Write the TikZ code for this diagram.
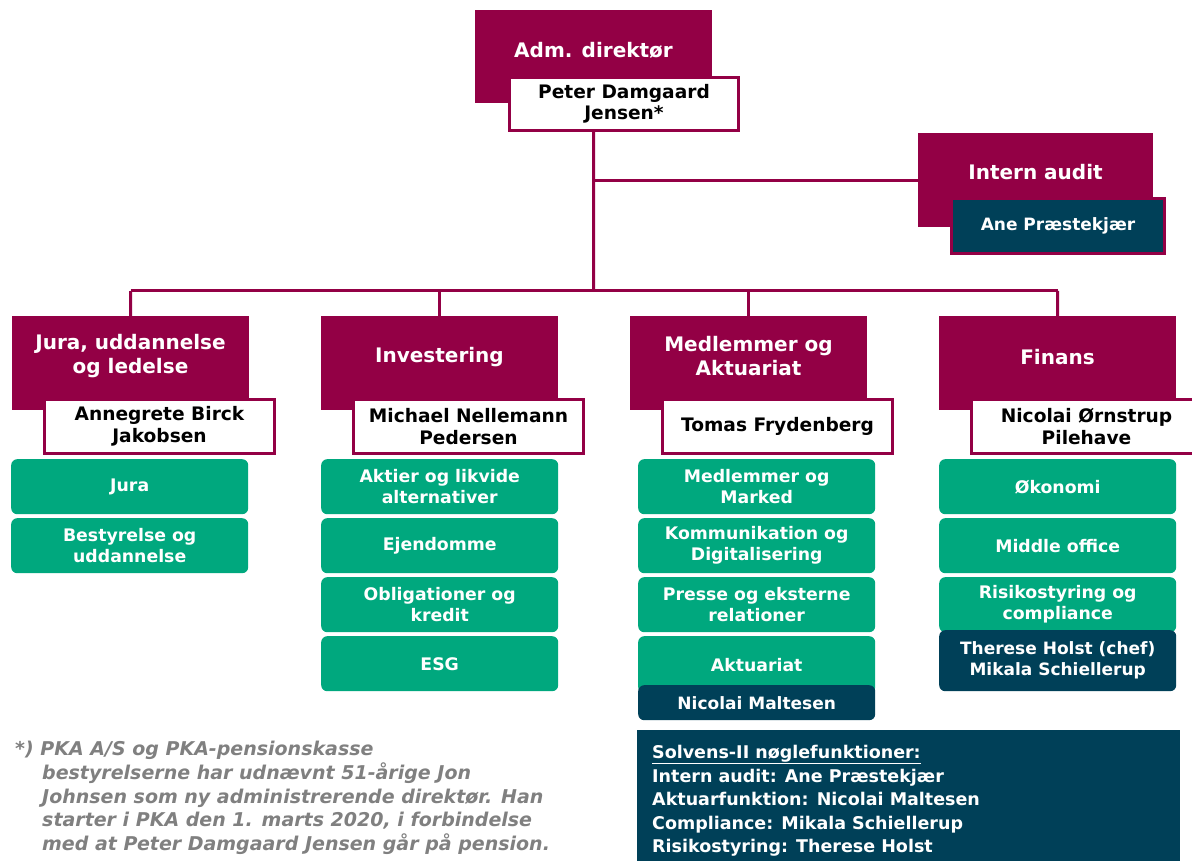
\documentclass[tikz,border=0pt]{standalone}
\usepackage{fontspec}
\setmainfont{DejaVu Sans}
\definecolor{maroon}{RGB}{147,0,69}
\definecolor{pgreen}{RGB}{0,168,126}
\definecolor{dteal}{RGB}{0,64,88}
\definecolor{fgray}{RGB}{128,128,128}
\begin{document}
\begin{tikzpicture}[x=1pt,y=-1pt,
  mbox/.style={fill=maroon,anchor=north west,inner sep=0pt,minimum width=237pt,minimum height=94pt},
  ttl/.style={text=white,font=\fontsize{20}{23.5}\selectfont\bfseries,align=center,inner sep=0pt},
  person/.style={draw=maroon,line width=3pt,fill=white,anchor=north west,inner sep=0pt,minimum width=230pt,minimum height=54pt,align=center,font=\fontsize{18.6}{21.5}\selectfont\bfseries,text=black},
  gbox/.style={fill=pgreen,rounded corners=6pt,anchor=north west,inner sep=0pt,minimum width=237pt,minimum height=55pt,align=center,text=white,font=\fontsize{17.3}{21}\selectfont\bfseries},
  dbox/.style={fill=dteal,rounded corners=6pt,anchor=north west,inner sep=0pt,minimum width=237pt,align=center,text=white,font=\fontsize{17}{21}\selectfont\bfseries},
  conn/.style={draw=maroon,line width=3pt}]
\useasboundingbox (0,0) rectangle (1192,861);
% top
\node[mbox,minimum width=237pt,minimum height=93pt] (admbox) at (475,10) {};
\node[ttl] (admt) at (593.5,50) {Adm. direktør};
\node[person,minimum width=229pt,minimum height=53pt] (pdj) at (508,76) {Peter Damgaard\\Jensen*};
% intern audit
\node[mbox,minimum width=235pt,minimum height=94pt] (iabox) at (918,133) {};
\node[ttl] (iat) at (1035.5,172) {Intern audit};
\node[draw=maroon,line width=3pt,fill=dteal,anchor=north west,inner sep=0pt,minimum width=213pt,minimum height=55pt,text=white,font=\fontsize{17}{20}\selectfont\bfseries] (ane) at (950,197) {Ane Præstekjær};
% connectors
\coordinate (trunk) at (593.5,291);
\coordinate (iaj) at (593.5,181);
\coordinate (busL) at (130.5,291);
\coordinate (busR) at (1057.5,291);
\draw[conn] (admbox.center |- pdj.south) -- (trunk);
\draw[conn] (iaj) -- (iabox.west |- iaj);
\draw[conn] (busL) -- (busR);
% columns
\node[mbox] (c1) at (12,316) {};
\node[mbox] (c2) at (321,316) {};
\node[mbox] (c3) at (630,316) {};
\node[mbox] (c4) at (939,316) {};
\draw[conn] (busL) -- (c1.north);
\draw[conn] (c2.north |- busL) -- (c2.north);
\draw[conn] (c3.north |- busL) -- (c3.north);
\draw[conn] (busR) -- (c4.north);
\node[ttl] (c1t) at (130.5,356) {Jura, uddannelse\\og ledelse};
\node[ttl] (c2t) at (439.5,357) {Investering};
\node[ttl] (c3t) at (748.5,356) {Medlemmer og\\Aktuariat};
\node[ttl] (c4t) at (1057.5,357) {Finans};
\node[person] (p1) at (43,398) {Annegrete Birck\\Jakobsen};
\node[person] (p2) at (352,398) {Michael Nellemann\\Pedersen};
\node[person] (p3) at (661,398) {Tomas Frydenberg};
\node[person] (p4) at (970,398) {Nicolai Ørnstrup\\Pilehave};
% green boxes col1
\node[gbox] (g11) at (11,459) {Jura};
\node[gbox] (g12) at (11,518) {Bestyrelse og\\uddannelse};
% col2
\node[gbox] (g21) at (321,459) {Aktier og likvide\\alternativer};
\node[gbox] (g22) at (321,518) {Ejendomme};
\node[gbox] (g23) at (321,577) {Obligationer og\\kredit};
\node[gbox] (g24) at (321,636) {ESG};
% col3
\node[gbox] (g31) at (638,459) {Medlemmer og\\Marked};
\node[gbox] (g32) at (638,518) {Kommunikation og\\Digitalisering};
\node[gbox] (g33) at (638,577) {Presse og eksterne\\relationer};
\node[gbox,minimum height=57pt] (g34) at (638,636) {Aktuariat};
\node[dbox,minimum height=35pt] (nm) at (638,685) {Nicolai Maltesen};
% col4
\node[gbox] (g41) at (939,459) {Økonomi};
\node[gbox] (g42) at (939,518) {Middle office};
\node[gbox] (g43) at (939,577) {Risikostyring og\\compliance};
\node[dbox,minimum height=61pt] (th) at (939,630) {Therese Holst (chef)\\Mikala Schiellerup};
% footnote
\node[anchor=north west,inner sep=0pt,align=left,text=fgray,font=\fontsize{19}{23.75}\selectfont\bfseries\itshape] (fn) at (15,741)
 {*) PKA A/S og PKA-pensionskasse\\
 \hspace*{27pt}bestyrelserne har udnævnt 51-årige Jon\\
 \hspace*{27pt}Johnsen som ny administrerende direktør. Han\\
 \hspace*{27pt}starter i PKA den 1. marts 2020, i forbindelse\\
 \hspace*{27pt}med at Peter Damgaard Jensen går på pension.};
% solvens
\node[fill=dteal,anchor=north west,inner sep=0pt,minimum width=543pt,minimum height=140pt] (solv) at (637,730) {};
\node[anchor=north west,inner sep=0pt,align=left,text=white,font=\fontsize{17.5}{23.5}\selectfont\bfseries] (solvt) at (652,745)
 {\underline{Solvens-II nøglefunktioner:}\\
 Intern audit: Ane Præstekjær\\
 Aktuarfunktion: Nicolai Maltesen\\
 Compliance: Mikala Schiellerup\\
 Risikostyring: Therese Holst};
\end{tikzpicture}
\end{document}
